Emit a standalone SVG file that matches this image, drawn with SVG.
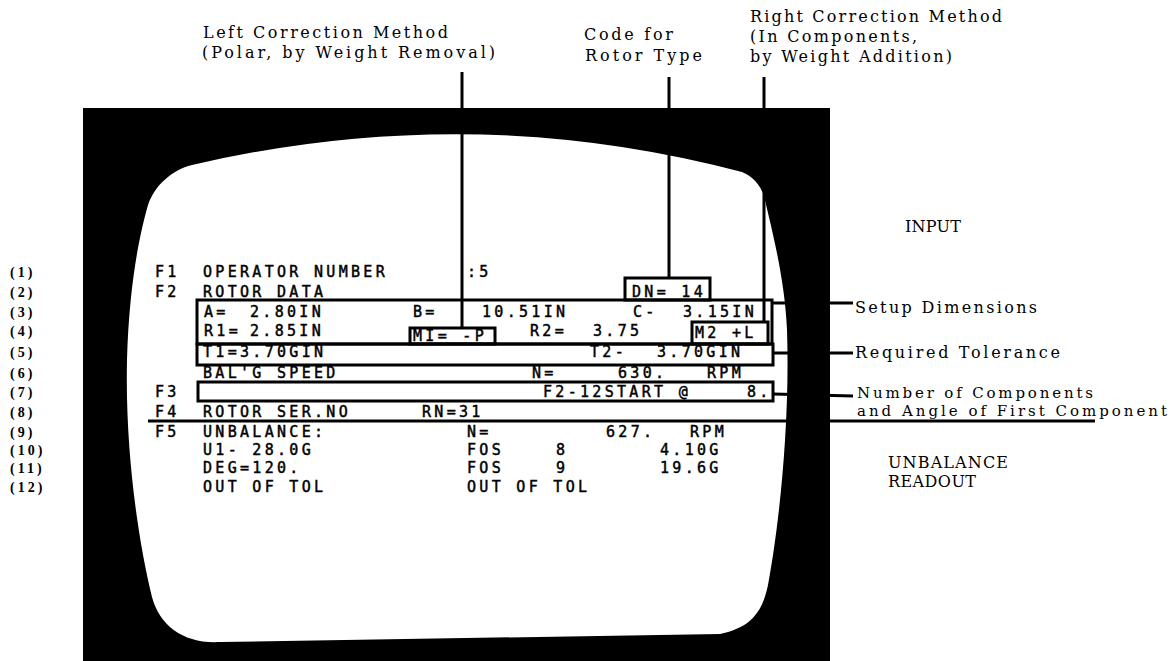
<svg xmlns="http://www.w3.org/2000/svg" width="1172" height="661" viewBox="0 0 1172 661">
<style>
.lbl{font-family:"DejaVu Serif","Liberation Serif",serif;font-size:16px;fill:#000}
.lbs{font-family:"DejaVu Serif","Liberation Serif",serif;font-size:15px;fill:#000}
.num{font-family:"Liberation Serif",serif;font-size:14px;font-weight:bold;fill:#000;letter-spacing:3px}
.scr{font-family:"DejaVu Sans Mono","Liberation Mono",monospace;font-size:15px;fill:#000;stroke:#000;stroke-width:0.45;letter-spacing:3.3px}
.box{fill:none;stroke:#000;stroke-width:3}
.ln{fill:none;stroke:#000;stroke-width:3}
</style>
<rect x="0" y="0" width="1172" height="661" fill="#fff"/>
<g id="bezel">
<rect x="83" y="108" width="747" height="553" fill="#000"/>
<path d="M192,165 Q470,100 742,172 C752,176 760,184 764,196 C772,230 785,280 787,330 C790,420 780,520 768,585 C762,615 748,628 720,634 L220,642 C185,644 160,627 152,597 C138,540 125,450 127,360 C129,290 138,240 148,205 C155,185 172,170 192,165 Z" fill="#fff"/>
</g>
<g id="top-labels">
<text class="lbl" x="203" y="38" textLength="245" lengthAdjust="spacing">Left Correction Method</text>
<text class="lbl" x="202" y="58" textLength="293" lengthAdjust="spacing">(Polar, by Weight Removal)</text>
<text class="lbl" x="584" y="40" textLength="89" lengthAdjust="spacing">Code for</text>
<text class="lbl" x="585" y="61" textLength="117" lengthAdjust="spacing">Rotor Type</text>
<text class="lbl" x="750" y="22" textLength="252" lengthAdjust="spacing">Right Correction Method</text>
<text class="lbl" x="750" y="42" textLength="167" lengthAdjust="spacing">(In Components,</text>
<text class="lbl" x="750" y="62" textLength="202" lengthAdjust="spacing">by Weight Addition)</text>
</g>
<g id="side-labels">
<text class="lbl" x="905" y="232" textLength="56" lengthAdjust="spacing">INPUT</text>
<text class="lbl" x="855" y="313" textLength="182" lengthAdjust="spacing">Setup Dimensions</text>
<text class="lbl" x="855" y="358" textLength="205" lengthAdjust="spacing">Required Tolerance</text>
<text class="lbs" x="857" y="398" textLength="236" lengthAdjust="spacing">Number of Components</text>
<text class="lbs" x="857" y="416" textLength="310" lengthAdjust="spacing">and Angle of First Component</text>
<text class="lbl" x="888" y="468" textLength="120" lengthAdjust="spacing">UNBALANCE</text>
<text class="lbl" x="888" y="487" textLength="88" lengthAdjust="spacing">READOUT</text>
</g>
<g id="row-numbers">
<text class="num" x="10" y="277">(1)</text>
<text class="num" x="10" y="297">(2)</text>
<text class="num" x="10" y="317">(3)</text>
<text class="num" x="10" y="336">(4)</text>
<text class="num" x="10" y="357">(5)</text>
<text class="num" x="10" y="378">(6)</text>
<text class="num" x="10" y="397">(7)</text>
<text class="num" x="10" y="417">(8)</text>
<text class="num" x="10" y="437">(9)</text>
<text class="num" x="10" y="455">(10)</text>
<text class="num" x="10" y="473">(11)</text>
<text class="num" x="10" y="492">(12)</text>
</g>
<g id="screen-text">
<text class="scr" x="155" y="277">F1</text>
<text class="scr" x="203" y="277">OPERATOR NUMBER</text>
<text class="scr" x="467" y="277">:5</text>
<text class="scr" x="155" y="297">F2</text>
<text class="scr" x="203" y="297">ROTOR DATA</text>
<text class="scr" x="204" y="317">A=</text>
<text class="scr" x="250" y="317">2.80IN</text>
<text class="scr" x="413" y="317">B=</text>
<text class="scr" x="482" y="317">10.51IN</text>
<text class="scr" x="633" y="317">C-</text>
<text class="scr" x="683" y="317">3.15IN</text>
<text class="scr" x="204" y="336">R1=</text>
<text class="scr" x="250" y="336">2.85IN</text>
<text class="scr" x="530" y="336">R2=</text>
<text class="scr" x="593" y="336">3.75</text>
<text class="scr" x="203" y="357" letter-spacing="1.5">T1=</text>
<text class="scr" x="240" y="357">3.70GIN</text>
<text class="scr" x="590" y="357">T2-</text>
<text class="scr" x="657" y="357">3.70GIN</text>
<text class="scr" x="203" y="378">BAL'G SPEED</text>
<text class="scr" x="532" y="378">N=</text>
<text class="scr" x="618" y="378">630.</text>
<text class="scr" x="707" y="378">RPM</text>
<text class="scr" x="155" y="397">F3</text>
<text class="scr" x="543" y="397">F2-12START @</text>
<text class="scr" x="747" y="397">8.</text>
<text class="scr" x="155" y="417">F4</text>
<text class="scr" x="203" y="417">ROTOR SER.NO</text>
<text class="scr" x="422" y="417">RN=31</text>
<text class="scr" x="155" y="437">F5</text>
<text class="scr" x="203" y="437">UNBALANCE:</text>
<text class="scr" x="467" y="437">N=</text>
<text class="scr" x="606" y="437">627.</text>
<text class="scr" x="690" y="437">RPM</text>
<text class="scr" x="203" y="455">U1- 28.0G</text>
<text class="scr" x="467" y="455">FOS</text>
<text class="scr" x="556" y="455">8</text>
<text class="scr" x="660" y="455">4.10G</text>
<text class="scr" x="203" y="473">DEG=120.</text>
<text class="scr" x="467" y="473">FOS</text>
<text class="scr" x="556" y="473">9</text>
<text class="scr" x="660" y="473">19.6G</text>
<text class="scr" x="203" y="492">OUT OF TOL</text>
<text class="scr" x="467" y="492">OUT OF TOL</text>
</g>
<g id="box-dn"><rect class="box" x="625" y="278" width="85" height="22"/><text class="scr" x="632" y="297">DN= 14</text></g>
<g id="box-setup"><rect class="box" x="197" y="300" width="575" height="44"/></g>
<g id="box-mi"><rect class="box" x="410" y="328" width="85" height="16"/><text class="scr" x="413" y="341">MI= -P</text></g>
<g id="box-m2"><rect class="box" x="692" y="322" width="76" height="22"/><text class="scr" x="695" y="338">M2 +L</text></g>
<g id="box-tol"><rect class="box" x="197" y="344" width="576" height="21"/></g>
<g id="box-f3"><rect class="box" x="198" y="382" width="575" height="19"/></g>
<g id="connectors">
<line class="ln" x1="462" y1="72" x2="462" y2="328"/>
<line class="ln" x1="669" y1="77" x2="669" y2="278"/>
<line class="ln" x1="764" y1="77" x2="764" y2="322"/>
<line class="ln" x1="772" y1="303" x2="853" y2="303"/>
<line class="ln" x1="773" y1="353" x2="853" y2="353"/>
<line class="ln" x1="773" y1="394" x2="853" y2="396"/>
<line class="ln" x1="148" y1="421" x2="1095" y2="421"/>
</g>
</svg>
